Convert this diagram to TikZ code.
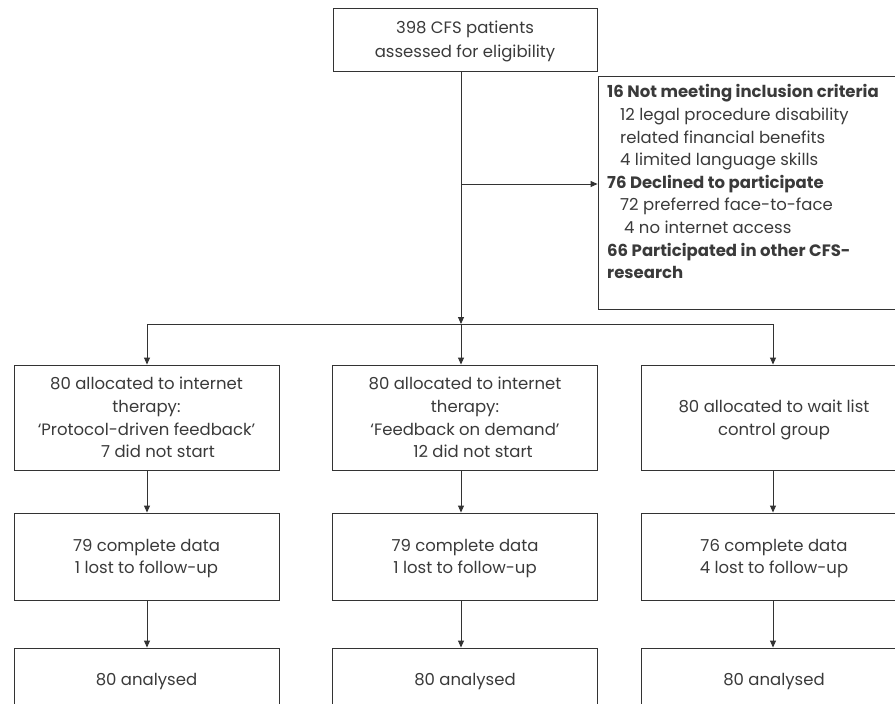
\documentclass[tikz,border=0pt]{standalone}
\usepackage{fontspec}
\setmainfont{Poppins}
\usetikzlibrary{arrows.meta}
\definecolor{ink}{HTML}{333333}
\definecolor{txt}{HTML}{3A3A3A}
\begin{document}
\begin{tikzpicture}[x=1pt,y=-1pt,
  every node/.style={text=txt, font=\fontsize{16.5}{22.6}\selectfont},
  box/.style={draw=ink, line width=0.9pt, minimum width=265pt, align=center, inner sep=0pt, text depth=0pt},
  arr/.style={draw=ink, line width=0.9pt, -{Triangle[width=6pt,length=7pt]}},
  ln/.style={draw=ink, line width=0.9pt}]
\useasboundingbox (0,0) rectangle (895,704);
\begin{scope}
\clip (0,0) rectangle (895,704);
\node[box, minimum width=264pt, minimum height=63pt, font=\fontsize{16.5}{24}\selectfont] (top) at (465,39.5) {398 CFS patients\\assessed for eligibility};
\node[draw=ink, line width=0.9pt, minimum width=302pt, minimum height=233pt, inner sep=0pt] (excl) at (749,192.5) {};
\node[anchor=north west, align=left, inner sep=0pt] (excltext) at (607,84.5) {%
\textbf{16 Not meeting inclusion criteria}\\
\hspace{13pt}12 legal procedure disability\\
\hspace{13pt}related financial benefits\\
\hspace{13pt}4 limited language skills\\
\textbf{76 Declined to participate}\\
\hspace{13pt}72 preferred face-to-face\\
\hspace{17pt}4 no internet access\\
\textbf{66 Participated in other CFS-}\\
\textbf{research}};
\node[box, minimum height=105pt] (a1) at (146.5,417.5) {80 allocated to internet\\therapy:\\‘Protocol-driven feedback’\\\hspace{23pt}7 did not start};
\node[box, minimum height=105pt] (a2) at (465,417.5) {80 allocated to internet\\therapy:\\‘Feedback on demand’\\\hspace{16pt}12 did not start};
\node[box, minimum height=105pt] (a3) at (774,417.5) {80 allocated to wait list\\control group};
\node[box, minimum height=87pt] (c1) at (146.5,556.5) {79 complete data\\1 lost to follow-up};
\node[box, minimum height=87pt] (c2) at (465,556.5) {79 complete data\\1 lost to follow-up};
\node[box, minimum height=87pt] (c3) at (774,556.5) {76 complete data\\4 lost to follow-up};
\node[box, minimum height=62pt] (n1) at (146.5,679) {80 analysed};
\node[box, minimum height=62pt] (n2) at (465,679) {80 analysed};
\node[box, minimum height=62pt] (n3) at (774,679) {80 analysed};
\coordinate (j) at (461,324);
\coordinate (b) at (461,184);
\coordinate (jl) at (147,324);
\coordinate (jr) at (773,324);
\draw[arr] (top.south -| j) -- (j);
\draw[arr] (b) -- (b -| excl.west);
\draw[ln] (jl) -- (jr);
\draw[arr] (jl) -- (jl |- a1.north);
\draw[arr] (j) -- (j |- a2.north);
\draw[arr] (jr) -- (jr |- a3.north);
\draw[arr] (a1.south -| jl) -- (c1.north -| jl);
\draw[arr] (a2.south -| j) -- (c2.north -| j);
\draw[arr] (a3.south -| jr) -- (c3.north -| jr);
\draw[arr] (c1.south -| jl) -- (n1.north -| jl);
\draw[arr] (c2.south -| j) -- (n2.north -| j);
\draw[arr] (c3.south -| jr) -- (n3.north -| jr);
\end{scope}
\end{tikzpicture}
\end{document}
